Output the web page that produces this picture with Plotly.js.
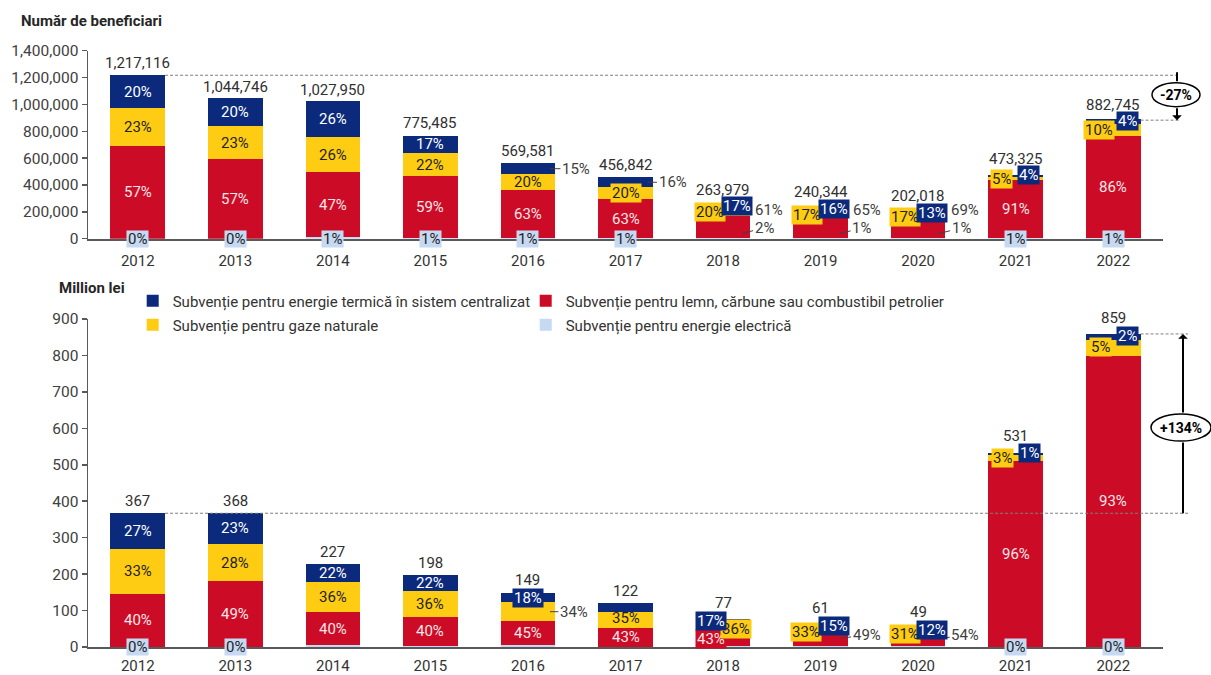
<!DOCTYPE html>
<html>
<head>
<meta charset="utf-8">
<script src="https://cdn.plot.ly/plotly-3.0.1.min.js"></script>
<style>
html,body{margin:0;padding:0;background:#ffffff;}
#chart{width:1211px;height:675px;}
</style>
</head>
<body>
<div id="chart"></div>
<script>
// ---------------- DATA ----------------
const years = ['2012','2013','2014','2015','2016','2017','2018','2019','2020','2021','2022'];

// Number of beneficiaries (total) and structure in %
const beneficiariTotal = [1217116, 1044746, 1027950, 775485, 569581, 456842, 263979, 240344, 202018, 473325, 882745];
const benTermic   = [20, 20, 26, 17, 15, 16, 17, 16, 13, 4, 4];
const benGaze     = [23, 23, 26, 22, 20, 20, 20, 17, 17, 5, 10];
const benLemn     = [57, 57, 47, 59, 63, 63, 61, 65, 69, 91, 86];
const benElectric = [0, 0, 1, 1, 1, 1, 2, 1, 1, 1, 1];

// Cost, million lei (total) and structure in %
const costTotal    = [367, 368, 227, 198, 149, 122, 77, 61, 49, 531, 859];
const costTermic   = [27, 23, 22, 22, 18, 22, 17, 15, 12, 1, 2];
const costGaze     = [33, 28, 36, 36, 34, 35, 36, 33, 31, 3, 5];
const costLemn     = [40, 49, 40, 40, 45, 43, 43, 49, 54, 96, 93];
const costElectric = [0, 0, 2, 2, 3, 0, 4, 3, 3, 0, 0];

const seriesNames = {
  termic: 'Subvenție pentru energie termică în sistem centralizat',
  lemn: 'Subvenție pentru lemn, cărbune sau combustibil petrolier',
  gaze: 'Subvenție pentru gaze naturale',
  electric: 'Subvenție pentru energie electrică'
};
const titleTop = 'Număr de beneficiari';
const titleBottom = 'Million lei';

// ---------------- STYLE / PLACEMENT ----------------
const W = 1211, H = 675;
const FONT = 'Roboto, "Noto Sans", sans-serif';
const NAVY = '#0b2a7c', RED = '#cc0c27', YELLOW = '#fecd13', LIGHT = '#c6d9f3';
const DARK = '#404040';
const X_RANGE = [-0.51, 10.51];
const X_DOM = [88 / W, 1163 / W];
const TOP_DOM = [1 - 238.7 / H, 1 - 50.7 / H];
const BOT_DOM = [1 - 647 / H, 1 - 319 / H];
const TOP_RANGE = [0, 1400000];
const BOT_RANGE = [0, 900];
const BARGAP = 0.44;

const seriesStyle = {
  termic:   {color: NAVY,   text: '#ffffff', legend: 'legend',  rank: 1, lw: 348},
  lemn:     {color: RED,    text: '#f8e6e8', legend: 'legend',  rank: 2},
  gaze:     {color: YELLOW, text: '#1f1f1f', legend: 'legend2', rank: 1, lw: 348},
  electric: {color: LIGHT,  text: '#1f1f1f', legend: 'legend2', rank: 2}
};
const stackOrder = ['electric', 'lemn', 'gaze', 'termic'];

// label placement tweaks (pixel offsets), key = series:yearIndex
const topPlace = {
  'termic:4': {dx: 48, leader: true, standoff: 22, outside: true},
  'termic:5': {dx: 47, leader: true, standoff: 22, outside: true},
  'gaze:5': {box: true},
  'gaze:6': {dx: -13, dy: 1, box: true}, 'termic:6': {dx: 14, box: true},
  'lemn:6': {dx: 46, dy: 17.5, outside: true}, 'electric:6': {dx: 41, dy: 10.5, leader: true, standoff: 20, outside: true, free: true},
  'gaze:7': {dx: -14, box: true}, 'termic:7': {dx: 13, dy: 0.5, box: true},
  'lemn:7': {dx: 46, dy: 18, outside: true}, 'electric:7': {dx: 41, dy: 10.5, leader: true, standoff: 20, outside: true, free: true},
  'gaze:8': {dx: -13, box: true}, 'termic:8': {dx: 14, dy: 0, box: true},
  'lemn:8': {dx: 47, dy: 19, outside: true}, 'electric:8': {dx: 43, dy: 10.5, leader: true, standoff: 20, outside: true, free: true},
  'gaze:9': {dx: -14, box: true}, 'termic:9': {dx: 13, dy: 1, box: true},
  'gaze:10': {dx: -14, box: true}, 'termic:10': {dx: 14, box: true}
};
const botPlace = {
  'termic:4': {box: true},
  'gaze:4': {dx: 46, leader: true, standoff: 22, outside: true},
  'gaze:5': {dy: 2.5},
  'termic:6': {dx: -12, box: true}, 'gaze:6': {dx: 13, box: true}, 'lemn:6': {dx: -12, dy: 1, box: true},
  'gaze:7': {dx: -15, box: true}, 'termic:7': {dx: 13, box: true},
  'lemn:7': {dx: 46, dy: 6, leader: true, standoff: 20, outside: true},
  'gaze:8': {dx: -13, box: true}, 'termic:8': {dx: 14, box: true},
  'lemn:8': {dx: 47, dy: 6.6, leader: true, standoff: 20, outside: true},
  'gaze:9': {dx: -13, box: true}, 'termic:9': {dx: 14, dy: 1, box: true},
  'gaze:10': {dx: -13, dy: 1, box: true}, 'termic:10': {dx: 14, dy: 1.5, box: true}
};
const botHidden = ['electric:2','electric:3','electric:4','electric:5','electric:6','electric:7','electric:8','termic:5'];
const topTotalShift = [12, 11, 11, 12, 11, 12, 13, 14, 16, 16, 15];
const botTotalShift = [12, 12, 12, 12, 13, 12, 15.5, 16.5, 17, 17, 16];

function xPaper(c) {
  return X_DOM[0] + (c - X_RANGE[0]) / (X_RANGE[1] - X_RANGE[0]) * (X_DOM[1] - X_DOM[0]);
}
function pxPerUnit(dom, range) {
  return (dom[1] - dom[0]) * H / (range[1] - range[0]);
}

const charts = [
  {xa: 'x', ya: 'y', totals: beneficiariTotal,
   shares: {termic: benTermic, gaze: benGaze, lemn: benLemn, electric: benElectric},
   place: topPlace, hidden: [], totalShift: topTotalShift, legend: true},
  {xa: 'x2', ya: 'y2', totals: costTotal,
   shares: {termic: costTermic, gaze: costGaze, lemn: costLemn, electric: costElectric},
   place: botPlace, hidden: botHidden, totalShift: botTotalShift, legend: false}
];

const traces = [];
const annotations = [];

charts.forEach(ch => {
  const segs = {};
  stackOrder.forEach(s => {
    segs[s] = ch.totals.map((t, i) => t * ch.shares[s][i] / 100);
    const st = seriesStyle[s];
    const tr = {
      type: 'bar', name: seriesNames[s], x: years, y: segs[s],
      xaxis: ch.xa, yaxis: ch.ya,
      marker: {color: st.color, line: {width: 0}},
      showlegend: ch.legend, legend: st.legend, legendrank: st.rank,
      hoverinfo: 'skip'
    };
    if (st.lw) tr.legendwidth = st.lw;
    traces.push(tr);
  });
  // labels (x given as category index)
  years.forEach((yr, i) => {
    let base = 0;
    stackOrder.forEach(s => {
      const v = segs[s][i];
      const mid = base + v / 2;
      base += v;
      const key = s + ':' + i;
      if (ch.hidden.indexOf(key) >= 0) return;
      const st = seriesStyle[s];
      const p = ch.place[key] || {};
      const isElecDefault = (s === 'electric' && !p.free);
      const box = isElecDefault ? true : !!p.box;
      const ann = {
        xref: ch.xa, yref: ch.ya, x: i, y: isElecDefault ? 0 : mid,
        xanchor: 'center', yanchor: 'middle',
        text: ch.shares[s][i] + '%',
        font: {family: FONT, size: 15, color: p.outside ? DARK : st.text},
        bgcolor: box ? st.color : 'rgba(0,0,0,0)',
        borderpad: 1,
        height: isElecDefault ? 14 : 16
      };
      if (p.leader) {
        ann.showarrow = true;
        ann.arrowhead = 0;
        ann.arrowwidth = 1;
        ann.arrowcolor = DARK;
        ann.axref = 'pixel'; ann.ayref = 'pixel';
        ann.ax = p.dx || 0;
        ann.ay = -(p.dy || 0);
        ann.standoff = p.standoff || 0;
      } else {
        ann.showarrow = false;
        ann.xshift = p.dx || 0;
        ann.yshift = p.dy || 0;
      }
      annotations.push(ann);
    });
    annotations.push({
      xref: ch.xa, yref: ch.ya, x: i, y: ch.totals[i],
      xanchor: 'center', yanchor: 'middle',
      text: ch.totals[i].toLocaleString('en-US'),
      showarrow: false, yshift: ch.totalShift[i],
      font: {family: FONT, size: 15, color: '#303030'}
    });
  });
});

// titles
annotations.push({xref: 'paper', yref: 'paper', x: 19 / W, y: 1 - 21 / H, xanchor: 'left', yanchor: 'middle',
  text: '<b>' + titleTop + '</b>', showarrow: false, font: {family: FONT, size: 15, color: '#262626'}});
annotations.push({xref: 'paper', yref: 'paper', x: 57 / W, y: 1 - 288 / H, xanchor: 'left', yanchor: 'middle',
  text: '<b>' + titleBottom + '</b>', showarrow: false, font: {family: FONT, size: 15, color: '#262626'}});

// ---------- comparison lines, arrows, ellipses ----------
const halfBar = (1 - BARGAP) / 2;
const dashLine = {color: '#7f7f7f', width: 1, dash: '3px,2px'};
const shapes = [
  {type: 'line', xref: 'paper', yref: 'y', x0: xPaper(0 + halfBar), x1: 1180 / W, y0: beneficiariTotal[0], y1: beneficiariTotal[0], line: dashLine},
  {type: 'line', xref: 'paper', yref: 'y', x0: xPaper(10 + halfBar), x1: 1180 / W, y0: beneficiariTotal[10], y1: beneficiariTotal[10], line: dashLine},
  {type: 'line', xref: 'paper', yref: 'y2', x0: xPaper(0 + halfBar), x1: 1188 / W, y0: costTotal[0], y1: costTotal[0], line: dashLine},
  {type: 'line', xref: 'paper', yref: 'y2', x0: xPaper(10 + halfBar), x1: 1188 / W, y0: costTotal[10], y1: costTotal[10], line: dashLine}
];

// top: -27%
(function () {
  const k = pxPerUnit(TOP_DOM, TOP_RANGE);
  const a = beneficiariTotal[0], b = beneficiariTotal[10];
  const mid = (a + b) / 2;
  const halfSpanPx = (a - b) / 2 * k;
  const cx = 1177 / W;
  const up = 3, hh = 12;
  shapes.push({type: 'circle', xref: 'paper', yref: 'y', xsizemode: 'pixel', ysizemode: 'pixel',
    xanchor: 1176 / W, x0: -24, x1: 24, yanchor: mid, y0: up - hh, y1: up + hh,
    fillcolor: '#ffffff', line: {color: '#000000', width: 1.5}});
  annotations.push({xref: 'paper', yref: 'y', x: cx, y: a, text: '', showarrow: true, arrowhead: 0,
    arrowwidth: 2, arrowcolor: '#000', axref: 'pixel', ayref: 'pixel', ax: 0, ay: halfSpanPx - up - hh + 3, yshift: 3});
  annotations.push({xref: 'paper', yref: 'y', x: cx, y: b, text: '', showarrow: true, arrowhead: 1, arrowsize: 0.8,
    arrowwidth: 2, arrowcolor: '#000', axref: 'pixel', ayref: 'pixel', ax: 0, ay: -(halfSpanPx - (hh - up))});
  const pct = Math.round((b / a - 1) * 100);
  annotations.push({xref: 'paper', yref: 'y', x: 1176 / W, y: mid, yshift: up, xanchor: 'center', yanchor: 'middle',
    text: '<b>' + pct + '%</b>', showarrow: false, font: {family: FONT, size: 14, color: '#000'}});
})();

// bottom: +134%
(function () {
  const k = pxPerUnit(BOT_DOM, BOT_RANGE);
  const a = costTotal[0], b = costTotal[10];
  const mid = (a + b) / 2;
  const halfSpanPx = (b - a) / 2 * k;
  const cx = 1183 / W;
  const down = 4, hh = 13.5;
  shapes.push({type: 'circle', xref: 'paper', yref: 'y2', xsizemode: 'pixel', ysizemode: 'pixel',
    xanchor: 1181 / W, x0: -30, x1: 30, yanchor: mid, y0: -down - hh, y1: -down + hh,
    fillcolor: '#ffffff', line: {color: '#000000', width: 1.5}});
  annotations.push({xref: 'paper', yref: 'y2', x: cx, y: b, text: '', showarrow: true, arrowhead: 1, arrowsize: 0.8,
    arrowwidth: 2, arrowcolor: '#000', axref: 'pixel', ayref: 'pixel', ax: 0, ay: halfSpanPx - (hh - down)});
  annotations.push({xref: 'paper', yref: 'y2', x: cx, y: a, text: '', showarrow: true, arrowhead: 0,
    arrowwidth: 2, arrowcolor: '#000', axref: 'pixel', ayref: 'pixel', ax: 0, ay: -(halfSpanPx - down - hh)});
  const pct = Math.round((b / a - 1) * 100);
  annotations.push({xref: 'paper', yref: 'y2', x: 1181 / W, y: mid, yshift: -down, xanchor: 'center', yanchor: 'middle',
    text: '<b>+' + pct + '%</b>', showarrow: false, font: {family: FONT, size: 14, color: '#000'}});
})();

const xAxisBase = {
  type: 'category', range: X_RANGE, domain: X_DOM, showline: true, linecolor: '#595959', linewidth: 2,
  ticks: '', showgrid: false, zeroline: false, fixedrange: true,
  tickfont: {family: FONT, size: 15, color: '#333333'}
};
const yAxisBase = {
  showline: true, linecolor: '#595959', linewidth: 1.5, ticks: 'outside', ticklen: 5, tickwidth: 1.5,
  tickcolor: '#595959', showgrid: false, zeroline: false, fixedrange: true, tickformat: ',d',
  tickfont: {family: FONT, size: 15.5, color: '#404040'}
};

const legendBase = {
  orientation: 'h', xanchor: 'left', yanchor: 'middle', x: 132.7 / W,
  traceorder: 'normal',
  bgcolor: 'rgba(0,0,0,0)', borderwidth: 0,
  font: {family: FONT, size: 15, color: '#333333'}
};

const layout = {
  width: W, height: H,
  margin: {l: 0, r: 0, t: 0, b: 0},
  paper_bgcolor: '#ffffff', plot_bgcolor: 'rgba(0,0,0,0)',
  barmode: 'stack', bargap: BARGAP,
  font: {family: FONT, size: 15, color: '#404040'},
  xaxis: Object.assign({}, xAxisBase, {anchor: 'y', ticklabelstandoff: 7}),
  yaxis: Object.assign({}, yAxisBase, {anchor: 'x', domain: TOP_DOM, range: TOP_RANGE, dtick: 200000}),
  xaxis2: Object.assign({}, xAxisBase, {anchor: 'y2', ticklabelstandoff: 4}),
  yaxis2: Object.assign({}, yAxisBase, {anchor: 'x2', domain: BOT_DOM, range: BOT_RANGE, dtick: 100}),
  legend: Object.assign({}, legendBase, {y: 1 - 301 / H}),
  legend2: Object.assign({}, legendBase, {y: 1 - 325 / H}),
  shapes: shapes,
  annotations: annotations
};

Plotly.newPlot('chart', traces, layout, {displayModeBar: false, staticPlot: true});
</script>
</body>
</html>
